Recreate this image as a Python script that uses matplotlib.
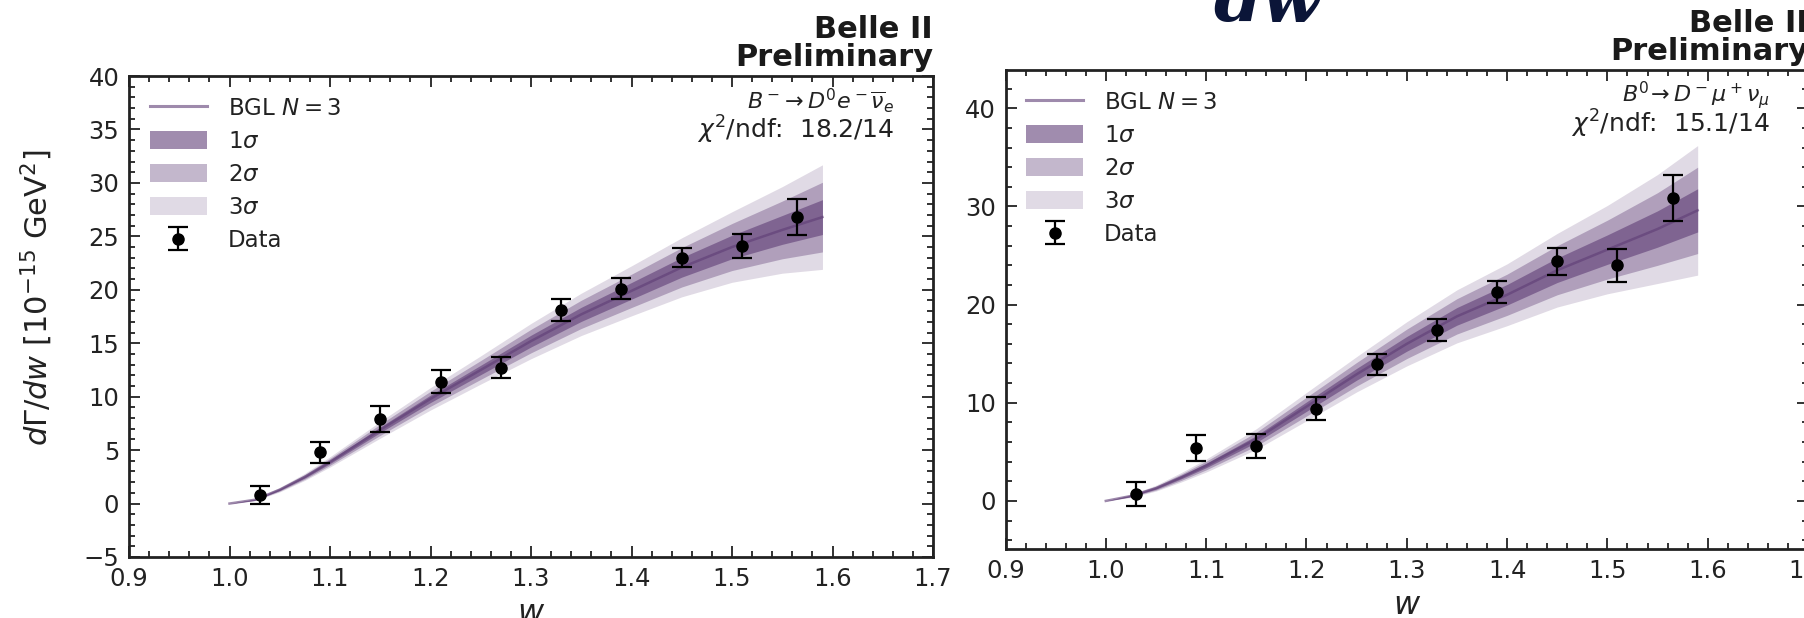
import matplotlib
matplotlib.use("Agg")
import matplotlib.pyplot as plt
import numpy as np
from matplotlib.ticker import MultipleLocator, AutoMinorLocator
from matplotlib.patches import Patch
from matplotlib.lines import Line2D

# ---------------- data ----------------
w_data = [1.03, 1.09, 1.15, 1.21, 1.27, 1.33, 1.39, 1.45, 1.51, 1.565]

left_y = [0.8, 4.8, 7.9, 11.4, 12.7, 18.1, 20.1, 23.0, 24.1, 26.8]
left_err = [0.8, 1.0, 1.2, 1.1, 1.0, 1.0, 1.0, 0.9, 1.15, 1.65]

right_y = [0.7, 5.4, 5.6, 9.4, 13.9, 17.4, 21.3, 24.4, 24.0, 30.9]
right_err = [1.2, 1.3, 1.2, 1.15, 1.1, 1.15, 1.15, 1.35, 1.65, 2.35]

w_fit = [1.00, 1.025, 1.05, 1.075, 1.10, 1.15, 1.20, 1.25, 1.30, 1.35, 1.40, 1.45, 1.50, 1.55, 1.59]
left_fit = [0.0, 0.35, 1.3, 2.5, 3.9, 6.9, 9.8, 12.5, 15.2, 17.7, 19.9, 22.1, 24.0, 25.6, 26.8]
left_sig = [0.0, 0.03, 0.07, 0.11, 0.16, 0.26, 0.35, 0.44, 0.55, 0.66, 0.78, 0.92, 1.1, 1.35, 1.63]
right_fit = [0.0, 0.5, 1.3, 2.4, 3.6, 6.3, 9.6, 12.9, 16.0, 18.8, 21.0, 23.5, 25.6, 27.7, 29.6]
right_sig = [0.0, 0.05, 0.1, 0.16, 0.22, 0.35, 0.48, 0.6, 0.75, 0.9, 1.05, 1.25, 1.5, 1.85, 2.2]

left_decay = r"$B^-\!\rightarrow D^0 e^- \overline{\nu}_e$"
right_decay = r"$B^0\!\rightarrow D^- \mu^+ \nu_\mu$"
left_chi = r"$\chi^2$/ndf:  18.2/14"
right_chi = r"$\chi^2$/ndf:  15.1/14"

# ---------------- style ----------------
BASE = "#5e3c75"
A3, A2, A1 = 0.19, 0.37, 0.59
TXT = "#222222"

plt.rcParams["font.family"] = ["DejaVu Sans"]
plt.rcParams["mathtext.fontset"] = "dejavusans"

W, H = 1804, 618
fig = plt.figure(figsize=(W / 100, H / 100), dpi=100)
fig.patch.set_facecolor("white")

ax1 = fig.add_axes([129 / W, (H - 557) / H, 804 / W, 481 / H])
ax2 = fig.add_axes([1005.5 / W, (H - 549) / H, 802.5 / W, 479 / H])


def draw(ax, y, err, fit, sig, decay, chi, ylim, ymaj, ymin):
    wf = np.array(w_fit)
    f = np.array(fit)
    s = np.array(sig)
    ax.fill_between(wf, f - 3 * s, f + 3 * s, color=BASE, alpha=A3, lw=0)
    ax.fill_between(wf, f - 2 * s, f + 2 * s, color=BASE, alpha=A2, lw=0)
    ax.fill_between(wf, f - 1 * s, f + 1 * s, color=BASE, alpha=A1, lw=0)
    ax.plot(wf, f, color=BASE, alpha=0.6, lw=1.8)
    eb = ax.errorbar(w_data, y, yerr=err, fmt="o", color="black", ms=8,
                     capsize=7, elinewidth=1.6, capthick=1.6, zorder=5)

    ax.set_xlim(0.9, 1.7)
    ax.set_ylim(*ylim)
    ax.xaxis.set_major_locator(MultipleLocator(0.1))
    ax.xaxis.set_minor_locator(AutoMinorLocator(5))
    ax.yaxis.set_major_locator(MultipleLocator(ymaj))
    ax.yaxis.set_minor_locator(MultipleLocator(ymin))
    ax.tick_params(which="both", direction="in", top=True, right=True,
                   colors=TXT, labelsize=17.5, width=1.3)
    ax.tick_params(which="major", length=8, pad=7)
    ax.tick_params(which="minor", length=4)
    for sp in ax.spines.values():
        sp.set_linewidth(2.0)
        sp.set_color(TXT)
    ax.set_xlabel(r"$w$", fontsize=23, color=TXT, labelpad=5)

    handles = [
        Line2D([], [], color=BASE, alpha=0.6, lw=2.2),
        Patch(facecolor=BASE, alpha=A1, lw=0),
        Patch(facecolor=BASE, alpha=A2, lw=0),
        Patch(facecolor=BASE, alpha=A3, lw=0),
        eb,
    ]
    labels = [r"BGL $N = 3$", r"$1\sigma$", r"$2\sigma$", r"$3\sigma$", "Data"]
    leg = ax.legend(handles, labels, loc="upper left", frameon=False,
                    fontsize=16.5, handlelength=2.5, handleheight=0.8,
                    handletextpad=0.9, labelspacing=0.44, borderaxespad=0.5)
    for t in leg.get_texts():
        t.set_color(TXT)

    ax.text(0.952, 0.948, decay, transform=ax.transAxes, ha="right",
            va="center", fontsize=16, color=TXT)
    ax.text(0.952, 0.888, chi, transform=ax.transAxes, ha="right",
            va="center", fontsize=18, color=TXT)
    ax.text(1.0, 1.008, "Belle II\nPreliminary", transform=ax.transAxes,
            ha="right", va="bottom", multialignment="right",
            fontsize=22, fontweight="bold", color="#1a1a1a", linespacing=0.98)


draw(ax1, left_y, left_err, left_fit, left_sig, left_decay, left_chi,
     (-5, 40), 5, 1)
draw(ax2, right_y, right_err, right_fit, right_sig, right_decay, right_chi,
     (-4.9, 43.9), 10, 2)

ax1.set_ylabel(r"$d\Gamma/dw$ [$10^{-15}$ GeV$^2$]", fontsize=22, color=TXT)
ax1.yaxis.set_label_coords(-0.092, 0.54)

# partially visible slide title fragment at the top
fig.text(1213 / W, 1 - 22 / H, "dw", fontsize=50, family="DejaVu Serif",
         style="italic", fontweight="bold", color="#0b1538",
         ha="left", va="baseline")

fig.savefig("out.png", dpi=100)
